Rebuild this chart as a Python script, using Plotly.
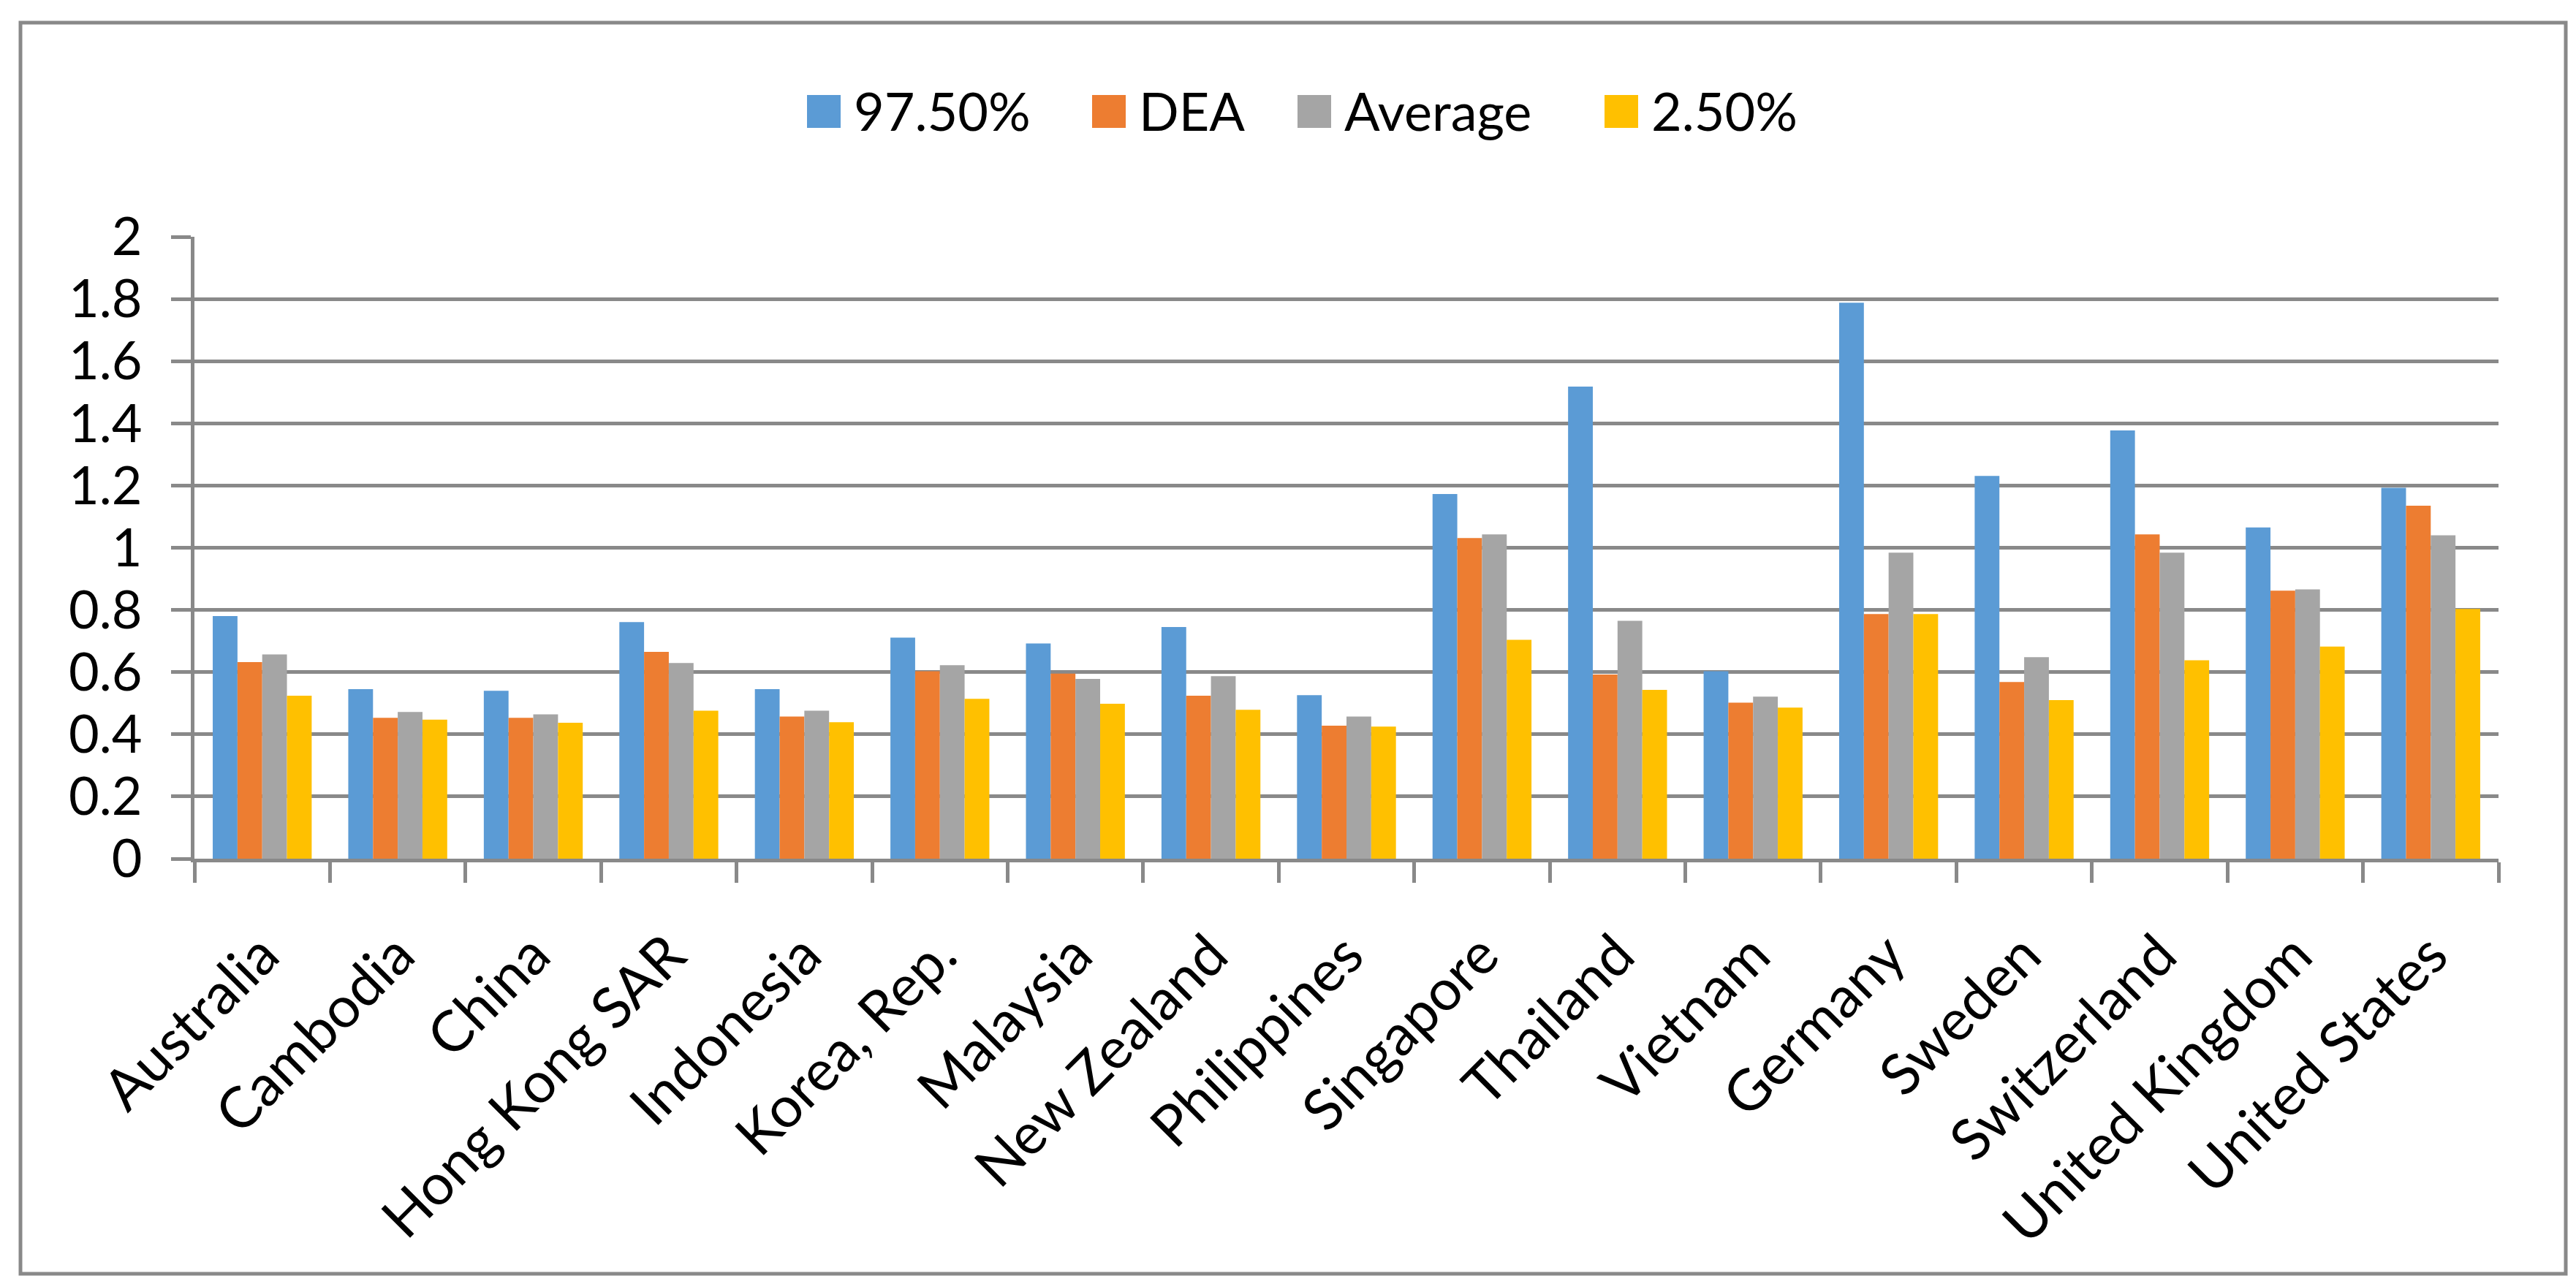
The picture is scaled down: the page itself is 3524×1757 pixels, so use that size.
import plotly.graph_objects as go

# ---- data ----
countries = ["Australia", "Cambodia", "China", "Hong Kong SAR", "Indonesia",
             "Korea, Rep.", "Malaysia", "New Zealand", "Philippines", "Singapore",
             "Thailand", "Vietnam", "Germany", "Sweden", "Switzerland",
             "United Kingdom", "United States"]
p975 = [0.780, 0.545, 0.540, 0.761, 0.545, 0.711, 0.692, 0.745, 0.526, 1.173,
        1.518, 0.603, 1.788, 1.231, 1.377, 1.065, 1.193]
dea = [0.632, 0.453, 0.453, 0.665, 0.457, 0.603, 0.595, 0.524, 0.428, 1.031,
       0.592, 0.502, 0.787, 0.568, 1.043, 0.862, 1.135]
average = [0.657, 0.472, 0.464, 0.629, 0.476, 0.622, 0.578, 0.587, 0.457, 1.043,
           0.765, 0.521, 0.984, 0.648, 0.984, 0.866, 1.040]
p025 = [0.524, 0.447, 0.437, 0.476, 0.439, 0.514, 0.498, 0.479, 0.425, 0.704,
        0.543, 0.486, 0.787, 0.510, 0.638, 0.682, 0.803]
series_names = ["97.50%", "DEA", "Average", "2.50%"]
y_tickvals = [0, 0.2, 0.4, 0.6, 0.8, 1, 1.2, 1.4, 1.6, 1.8, 2]
y_ticktext = ["0", "0.2", "0.4", "0.6", "0.8", "1", "1.2", "1.4", "1.6", "1.8", "2"]

# ---- style ----
colors = ["#5B9BD5", "#ED7D31", "#A5A5A5", "#FFC000"]
FONT = "Lato"
GRID = "#898989"
W, H = 3524, 1757
L, R, T, B = 258, 3410, 316, 1167  # plot area in pixels

def px_x(x):
    return (x - L) / (R - L)

def px_y(y):
    return (B - y) / (B - T)

fig = go.Figure()
for name, vals, col in zip(series_names, [p975, dea, average, p025], colors):
    fig.add_trace(go.Bar(x=countries, y=vals, name=name, marker_color=col,
                         marker_line_width=0, showlegend=False))

fig.update_layout(
    width=W, height=H, autosize=False,
    margin=dict(l=L, r=W - R, t=T, b=H - B, pad=0),
    paper_bgcolor="white", plot_bgcolor="white",
    barmode="group", bargap=0.27, bargroupgap=0,
    font=dict(family=FONT, size=72, color="black"),
)
fig.update_xaxes(
    type="category", showgrid=False, showline=True, linecolor=GRID, linewidth=5,
    ticks="outside", tickson="boundaries", ticklen=28, tickwidth=5, tickcolor=GRID,
    tickangle=-45, tickfont=dict(family=FONT, size=78, color="black"),
    ticklabelstandoff=50, automargin=False,
)
fig.update_yaxes(
    range=[0, 2], tickvals=y_tickvals, ticktext=y_ticktext,
    showgrid=True, gridcolor=GRID, gridwidth=5, zeroline=False,
    showline=True, linecolor=GRID, linewidth=5,
    ticks="outside", ticklen=27, tickwidth=5, tickcolor=GRID,
    tickfont=dict(family=FONT, size=72, color="black"),
    ticklabelposition="outside", ticklabelstandoff=25, automargin=False,
)

# outer chart border
fig.add_shape(type="rect", xref="paper", yref="paper",
              x0=px_x(20), x1=px_x(3502), y0=px_y(1735), y1=px_y(23),
              line=dict(color=GRID, width=5), fillcolor="rgba(0,0,0,0)", layer="below")

# legend (drawn manually for Excel-size swatches)
swatch_left = [1096, 1486, 1767, 2187]
for name, col, sx in zip(series_names, colors, swatch_left):
    fig.add_shape(type="rect", xref="paper", yref="paper",
                  x0=px_x(sx), x1=px_x(sx + 46), y0=px_y(167), y1=px_y(122),
                  line=dict(width=0), fillcolor=col)
    fig.add_annotation(xref="paper", yref="paper", x=px_x(sx + 62), y=px_y(143),
                       xanchor="left", yanchor="middle", text=name, showarrow=False,
                       font=dict(family=FONT, size=72, color="black"))

fig.write_html("out.html")
